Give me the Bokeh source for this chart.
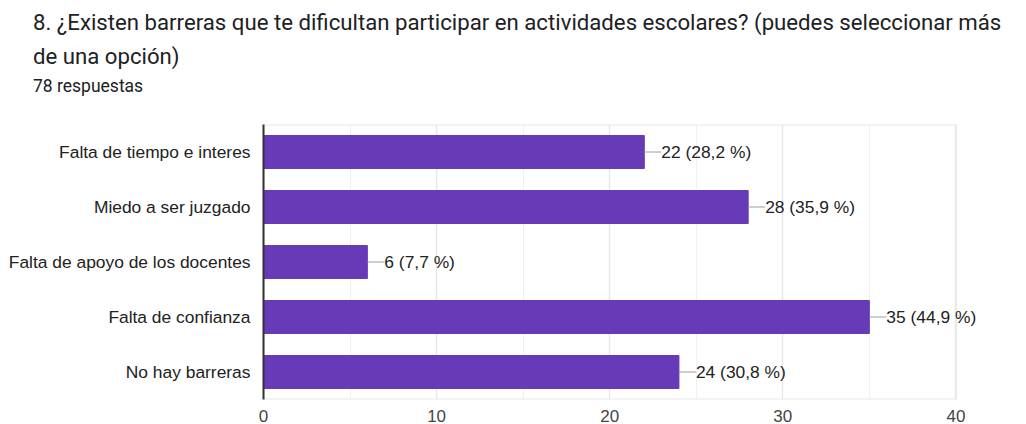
from bokeh.plotting import figure
from bokeh.models import (Range1d, FactorRange, ColumnDataSource, FixedTicker, LabelSet, Div)
from bokeh.layouts import column
from bokeh.core.properties import value
from bokeh.embed import file_html
from bokeh.resources import INLINE

categories = ["Falta de tiempo e interes", "Miedo a ser juzgado",
              "Falta de apoyo de los docentes", "Falta de confianza", "No hay barreras"]
counts = [22, 28, 6, 35, 24]
percents = ["28,2", "35,9", "7,7", "44,9", "30,8"]
x_ticks = [0, 10, 20, 30, 40]
minor_ticks = [5, 15, 25, 35]
title_line1 = "8. ¿Existen barreras que te dificultan participar en actividades escolares? (puedes seleccionar más"
title_line2 = "de una opción)"
subtitle = "78 respuestas"

labels = [f"{c} ({p} %)" for c, p in zip(counts, percents)]
src = ColumnDataSource(dict(cat=categories, n=counts, lab=labels))

header = Div(
    text=(
        '<div style="font-family:Roboto;color:#202124;white-space:nowrap;padding-left:33px;">'
        f'<div style="font-size:22.2px;line-height:34px;padding-top:5px;">{title_line1}<br>{title_line2}</div>'
        f'<div style="font-size:17.5px;line-height:20px;padding-top:3px;">{subtitle}</div>'
        '</div>'
    ),
    width=1026, height=96, margin=(0, 0, 0, 0),
)

p = figure(width=1026, height=328, output_backend="svg", toolbar_location=None,
           title=None,
           y_range=FactorRange(factors=list(reversed(categories)), range_padding=0),
           x_range=Range1d(0, 42),
           min_border_left=263, min_border_right=36, min_border_top=28, min_border_bottom=25)

# frame border spanning the whole category band, ending at the last tick
p.hbar(y=[categories[len(categories) // 2]], height=len(categories),
       left=x_ticks[0], right=x_ticks[-1], fill_color=None,
       line_color="#e8e8e8", line_width=2, level="underlay")

p.hbar(y="cat", right="n", left=0, height=0.6, source=src,
       fill_color="#673ab7", line_color="#673ab7")
p.ray(x="n", y="cat", length=17, length_units="screen", angle=0, source=src,
      line_color="#9e9e9e", line_width=1)
p.add_layout(LabelSet(x="n", y="cat", text="lab", source=src, x_offset=17,
                      text_baseline="middle", text_align="left",
                      text_font=value("Liberation Sans"), text_font_size="17.4px",
                      text_color="#222222"))

p.outline_line_color = None

# axes
p.yaxis.axis_line_color = "#333333"
p.yaxis.axis_line_width = 2
p.yaxis.major_tick_line_color = None
p.yaxis.minor_tick_line_color = None
p.yaxis.major_tick_out = 0
p.yaxis.minor_tick_out = 0
p.yaxis.major_label_standoff = 13
p.yaxis.major_label_text_font = "Liberation Sans"
p.yaxis.major_label_text_font_size = "17.4px"
p.yaxis.major_label_text_color = "#222222"

p.xaxis.ticker = FixedTicker(ticks=x_ticks, minor_ticks=minor_ticks)
p.xaxis.axis_line_color = None
p.xaxis.major_tick_line_color = None
p.xaxis.minor_tick_line_color = None
p.xaxis.major_tick_out = 0
p.xaxis.minor_tick_out = 0
p.xaxis.major_label_standoff = 10
p.xaxis.major_label_text_font = "Liberation Sans"
p.xaxis.major_label_text_font_size = "17px"
p.xaxis.major_label_text_color = "#444444"

p.ygrid.grid_line_color = None
p.xgrid.grid_line_color = "#e8e8e8"
p.xgrid.grid_line_width = 1.5
p.xgrid.minor_grid_line_color = "#f0f0f0"
p.xgrid.bounds = (0, x_ticks[-1])

layout = column(header, p, spacing=0)
open("out.html", "w").write(file_html(layout, INLINE))
